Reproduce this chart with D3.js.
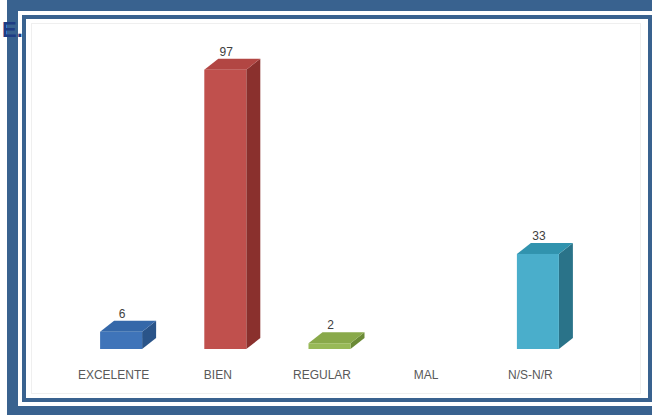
<!DOCTYPE html>
<html>
<head>
<meta charset="utf-8">
<script src="https://cdn.jsdelivr.net/npm/d3@7"></script>
<style>
  html, body { margin: 0; padding: 0; background: #fff; }
  svg { display: block; }
</style>
</head>
<body>
<svg id="chart" width="652" height="415"></svg>
<script>
// Survey answers per rating
const categories = ["EXCELENTE", "BIEN", "REGULAR", "MAL", "N/S-N/R"];
const values = [6, 97, 2, null, 33];
const frontColors = ["#3f74b9", "#c0504d", "#98b957", "#4aaecb", "#4aaecb"];
const topColors   = ["#3568a9", "#b24643", "#89a94a", "#3193ae", "#3193ae"];
const sideColors  = ["#2a5489", "#8a302d", "#6b8a36", "#2a7389", "#2a7389"];
const colorIndex = [0, 1, 2, 3, 4];

const W = 652, H = 415;
const svg = d3.select("#chart");
const frameBlue = "#39628f";

// Page frame: thick outer band, white gap, thin inner rule
svg.append("rect").attr("x", 7).attr("y", 0).attr("width", W - 7).attr("height", H).attr("fill", frameBlue);
svg.append("rect").attr("x", 18).attr("y", 11).attr("width", W - 18).attr("height", 395).attr("fill", "#fff");
svg.append("rect").attr("x", 22).attr("y", 15).attr("width", W - 22).attr("height", 387).attr("fill", frameBlue);
svg.append("rect").attr("x", 26).attr("y", 19).attr("width", 622).attr("height", 379).attr("fill", "#fff");

// Faint chart-area outline
svg.append("rect").attr("x", 31.5).attr("y", 23.5).attr("width", 609).attr("height", 370)
  .attr("fill", "none").attr("stroke", "#efefef").attr("stroke-width", 1);

// Section letter
svg.append("text").attr("x", 2).attr("y", 37)
  .attr("font-family", "Liberation Sans, Arial, sans-serif").attr("font-weight", "bold")
  .attr("font-size", 22).attr("fill", "#1e3c84").text("E.");

// Scales
const x = d3.scalePoint().domain(categories).range([69, 590]).padding(0.5);
const y = d3.scaleLinear().domain([0, 100]).range([349, 61]);
const barW = 42, dx = 14, dy = -11;

const g = svg.append("g");
categories.forEach((c, i) => {
  const v = values[i];
  if (v == null) return;
  const cx = x(c);
  const x0 = cx - barW / 2, x1 = cx + barW / 2;
  const yTop = y(v), yBot = y(0);
  const k = colorIndex[i];
  // side face
  g.append("path")
    .attr("d", `M${x1},${yTop} L${x1 + dx},${yTop + dy} L${x1 + dx},${yBot + dy} L${x1},${yBot} Z`)
    .attr("fill", sideColors[k]);
  // top face
  g.append("path")
    .attr("d", `M${x0},${yTop} L${x0 + dx},${yTop + dy} L${x1 + dx},${yTop + dy} L${x1},${yTop} Z`)
    .attr("fill", topColors[k]);
  // front face
  g.append("rect")
    .attr("x", x0).attr("y", yTop).attr("width", barW).attr("height", yBot - yTop)
    .attr("fill", frontColors[k]);
  // value label
  g.append("text")
    .attr("x", cx + 1).attr("y", yTop + dy - 3)
    .attr("text-anchor", "middle")
    .attr("font-family", "Liberation Sans, Arial, sans-serif").attr("font-size", 12)
    .attr("fill", "#404040").text(v);
});

// Category axis labels (no line, no ticks)
const axis = d3.axisBottom(x).tickSize(0).tickPadding(0);
const ax = svg.append("g").attr("transform", "translate(-8,370)").call(axis);
ax.select(".domain").remove();
ax.selectAll("text")
  .attr("font-family", "Liberation Sans, Arial, sans-serif").attr("font-size", 12)
  .attr("fill", "#595959").attr("dy", 0).attr("y", 9);
</script>
</body>
</html>
